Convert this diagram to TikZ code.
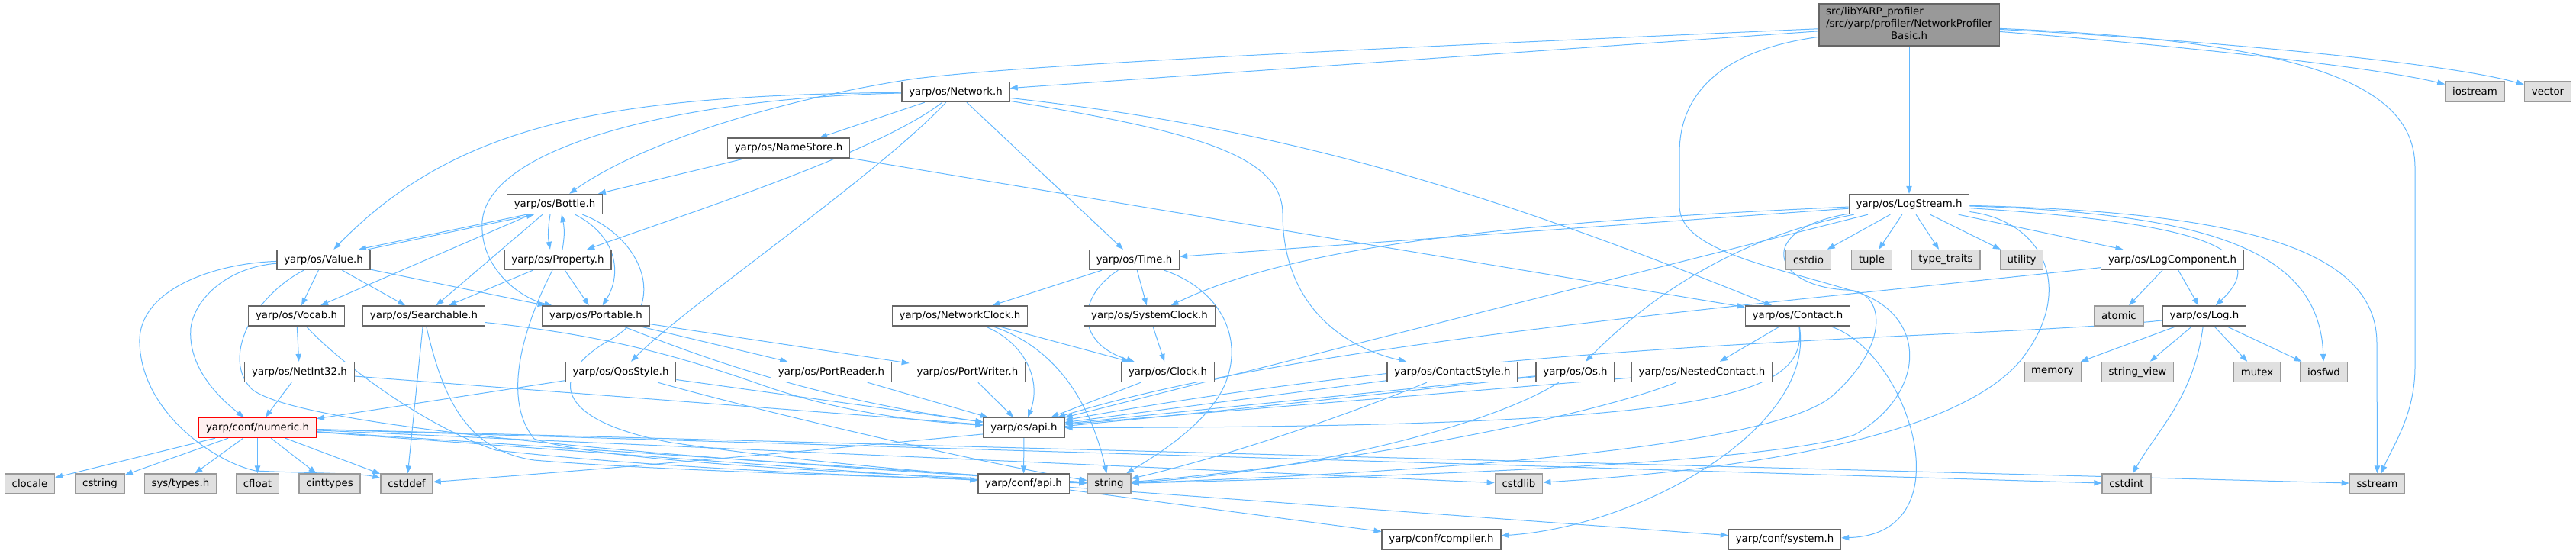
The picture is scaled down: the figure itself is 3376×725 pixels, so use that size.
\documentclass[tikz,border=0pt]{standalone}
\usepackage{fontspec}
\setmainfont{DejaVu Sans}
\usetikzlibrary{arrows.meta, calc, positioning, backgrounds}

\definecolor{edgeblue}{HTML}{63B8FF}
\definecolor{boxline}{HTML}{666666}
\definecolor{sysline}{HTML}{999999}
\definecolor{sysfill}{HTML}{E0E0E0}
\definecolor{mainfill}{HTML}{999999}
\definecolor{redline}{HTML}{FF0000}
\definecolor{redfill}{HTML}{FFF0F0}

\begin{document}
\begin{tikzpicture}[x=0.75pt, y=-0.75pt,
    hdr/.style={draw=boxline, fill=white, line width=1pt, rectangle, minimum height=19.5pt, inner xsep=7pt, inner ysep=0pt, font=\fontsize{10}{12}\selectfont},
    syshdr/.style={hdr, draw=sysline, fill=sysfill},
    dep/.style={draw=edgeblue, line width=0.75pt, -{Triangle[length=7.5pt,width=5.5pt]}}]
        \useasboundingbox (0,0) rectangle (3376,725);

        % Nodes
        \node (main) [hdr, fill=mainfill, minimum height=41.25pt] at (2502,32.5) {\begin{tabular}{@{}l@{}}src/libYARP\_profiler\\/src/yarp/profiler/NetworkProfiler\\\multicolumn{1}{@{}c@{}}{Basic.h}\end{tabular}};
        \node (iostream) [syshdr] at (3243.5,120) {iostream};
        \node (vector) [syshdr] at (3339,120) {vector};
        \node (network) [hdr] at (1252.5,120.5) {yarp/os/Network.h};
        \node (namestore) [hdr] at (1033.5,194) {yarp/os/NameStore.h};
        \node (bottle) [hdr] at (727,267.5) {yarp/os/Bottle.h};
        \node (logstream) [hdr] at (2502,267.5) {yarp/os/LogStream.h};
        \node (value) [hdr] at (424,340.5) {yarp/os/Value.h};
        \node (property) [hdr] at (731,340.5) {yarp/os/Property.h};
        \node (time) [hdr] at (1486.5,340.5) {yarp/os/Time.h};
        \node (cstdio) [syshdr] at (2370,340.5) {cstdio};
        \node (tuple) [syshdr] at (2453,340.5) {tuple};
        \node (typetraits) [syshdr] at (2550,340.5) {type\_traits};
        \node (utility) [syshdr] at (2649.5,340.5) {utility};
        \node (logcomp) [hdr] at (2847,340.5) {yarp/os/LogComponent.h};
        \node (vocab) [hdr] at (388.5,414) {yarp/os/Vocab.h};
        \node (searchable) [hdr] at (555.5,414) {yarp/os/Searchable.h};
        \node (portable) [hdr] at (781,414) {yarp/os/Portable.h};
        \node (netclock) [hdr] at (1258,414) {yarp/os/NetworkClock.h};
        \node (sysclock) [hdr] at (1506.5,414) {yarp/os/SystemClock.h};
        \node (contact) [hdr] at (2356,414) {yarp/os/Contact.h};
        \node (atomic) [syshdr] at (2777,414) {atomic};
        \node (log) [hdr] at (2889,414) {yarp/os/Log.h};
        \node (netint) [hdr] at (392.5,487.5) {yarp/os/NetInt32.h};
        \node (qosstyle) [hdr] at (813.5,487.5) {yarp/os/QosStyle.h};
        \node (portreader) [hdr] at (1089.5,487.5) {yarp/os/PortReader.h};
        \node (portwriter) [hdr] at (1268,487.5) {yarp/os/PortWriter.h};
        \node (clock) [hdr] at (1530.5,487.5) {yarp/os/Clock.h};
        \node (contactstyle) [hdr] at (1903.5,487.5) {yarp/os/ContactStyle.h};
        \node (os) [hdr] at (2064.5,487.5) {yarp/os/Os.h};
        \node (nestedcontact) [hdr] at (2230.5,487.5) {yarp/os/NestedContact.h};
        \node (memory) [syshdr] at (2690,487.5) {memory};
        \node (stringview) [syshdr] at (2801.5,487.5) {string\_view};
        \node (mutex) [syshdr] at (2958,487.5) {mutex};
        \node (iosfwd) [syshdr] at (3045.5,487.5) {iosfwd};
        \node (numeric) [hdr, draw=redline, fill=redfill] at (337.5,560.5) {yarp/conf/numeric.h};
        \node (osapi) [hdr] at (1342,560.5) {yarp/os/api.h};
        \node (clocale) [syshdr] at (39,634) {clocale};
        \node (cstring) [syshdr] at (131,634) {cstring};
        \node (systypes) [syshdr] at (236.5,634) {sys/types.h};
        \node (cfloat) [syshdr] at (337.5,634) {cfloat};
        \node (cinttypes) [syshdr] at (432,634) {cinttypes};
        \node (cstddef) [syshdr] at (533,634) {cstddef};
        \node (confapi) [hdr] at (1341.5,634) {yarp/conf/api.h};
        \node (string) [syshdr] at (1453.5,634) {string};
        \node (cstdlib) [syshdr] at (1990.5,634) {cstdlib};
        \node (cstdint) [syshdr] at (2787,634) {cstdint};
        \node (sstream) [syshdr] at (3115.5,634) {sstream};
        \node (compiler) [hdr] at (1889,707) {yarp/conf/compiler.h};
        \node (system) [hdr] at (2339,707) {yarp/conf/system.h};

        % Arrows
        \begin{scope}[on background layer]
        % from the profiler header
        \draw[dep] (main) -- (network);
        \draw[dep] (main) .. controls (1700,68) and (1350,85) .. (1200,103) .. controls (1050,125) and (850,180) .. (bottle);
        \draw[dep] (main) -- (logstream);
        \draw[dep] (main) .. controls (2800,55) and (3100,85) .. (iostream);
        \draw[dep] (main) .. controls (2850,50) and (3200,80) .. (vector);
        \draw[dep] (main) .. controls (3050,55) and (3165,120) .. (3165,220) -- (3165,480) .. controls (3165,545) and (3135,585) .. (sstream);
        \draw[dep] (main) .. controls (2260,65) and (2201,120) .. (2201,200) -- (2201,270) .. controls (2201,330) and (2330,350) .. (2440,385) .. controls (2530,420) and (2520,520) .. (2430,570) .. controls (2300,610) and (1800,625) .. (string);

        % Network.h
        \draw[dep] (network) -- (namestore);
        \draw[dep] (network) .. controls (800,125) and (600,160) .. (value);
        \draw[dep] (network) .. controls (900,128) and (640,190) .. (632,290) .. controls (628,350) and (680,390) .. (portable);
        \draw[dep] (network) .. controls (1150,200) and (900,280) .. (property);
        \draw[dep] (network) .. controls (1150,230) and (900,400) .. (qosstyle);
        \draw[dep] (network) -- (time);
        \draw[dep] (network) .. controls (1550,170) and (1681,200) .. (1681,280) .. controls (1681,400) and (1760,455) .. (contactstyle);
        \draw[dep] (network) .. controls (1650,165) and (1900,230) .. (contact);

        % NameStore.h
        \draw[dep] (namestore) -- (bottle);
        \draw[dep] (namestore) -- (contact);

        % Bottle.h
        \draw[dep] ($(bottle.south)+(-37,0)$) -- ($(value.north)+(46,0)$);
        \draw[dep] ($(value.north)+(58,0)$) -- ($(bottle.south)+(-27,0)$);
        \draw[dep] ($(bottle.south)+(-6,0)$) .. controls (718,300) and (718,310) .. ($(property.north)+(-10,0)$);
        \draw[dep] ($(property.north)+(6,0)$) .. controls (740,310) and (740,300) .. ($(bottle.south)+(9,0)$);
        \draw[dep] (bottle) -- (vocab);
        \draw[dep] (bottle) -- (searchable);
        \draw[dep] (bottle) .. controls (810,310) and (815,360) .. (portable);
        \draw[dep] (bottle) .. controls (840,310) and (880,400) .. (800,445) .. controls (720,490) and (720,550) .. (880,580) .. controls (1100,612) and (1300,625) .. (string);

        % Value.h
        \draw[dep] (value) -- (vocab);
        \draw[dep] (value) -- (searchable);
        \draw[dep] (value) -- (portable);
        \draw[dep] (value) .. controls (300,350) and (255,390) .. (250,430) .. controls (246,480) and (285,520) .. (numeric);
        \draw[dep] (value) .. controls (280,345) and (180,380) .. (183,450) .. controls (186,540) and (280,605) .. (335,617) .. controls (400,620) and (470,620) .. (cstddef);
        \draw[dep] (value) .. controls (330,390) and (290,470) .. (330,510) .. controls (380,550) and (700,590) .. (string);

        % Searchable.h, Property.h, Vocab.h, NetInt32.h
        \draw[dep] (searchable) -- (cstddef);
        \draw[dep] (searchable) .. controls (580,520) and (610,590) .. (700,603) .. controls (900,620) and (1300,628) .. (string);
        \draw[dep] (searchable) .. controls (800,440) and (900,470) .. (1000,505) .. controls (1100,540) and (1200,552) .. (osapi);
        \draw[dep] (property) -- (searchable);
        \draw[dep] (property) -- (portable);
        \draw[dep] (property) .. controls (690,420) and (655,520) .. (700,575) .. controls (800,610) and (1250,625) .. (string);
        \draw[dep] (vocab) -- (netint);
        \draw[dep] (vocab) .. controls (450,480) and (560,560) .. (650,590) .. controls (900,618) and (1250,628) .. (string);
        \draw[dep] (netint) -- (numeric);
        \draw[dep] (netint) -- (osapi);

        % QosStyle.h, Portable.h
        \draw[dep] (qosstyle) -- (numeric);
        \draw[dep] (qosstyle) -- (osapi);
        \draw[dep] (qosstyle) .. controls (1000,540) and (1300,610) .. (string);
        \draw[dep] (portable) -- (portreader);
        \draw[dep] (portable) -- (portwriter);
        \draw[dep] (portable) .. controls (900,460) and (1050,520) .. (osapi);
        \draw[dep] (portreader) -- (osapi);
        \draw[dep] (portwriter) -- (osapi);

        % numeric.h
        \draw[dep] (numeric) -- (clocale);
        \draw[dep] (numeric) -- (cstring);
        \draw[dep] (numeric) -- (systypes);
        \draw[dep] (numeric) -- (cfloat);
        \draw[dep] (numeric) -- (cinttypes);
        \draw[dep] (numeric) -- (cstddef);
        \draw[dep] (numeric) -- (confapi);
        \draw[dep] (numeric) -- (string);
        \draw[dep] (numeric) -- (cstdlib);
        \draw[dep] (numeric) -- (cstdint);
        \draw[dep] (numeric) -- (sstream);

        % api headers
        \draw[dep] (osapi) -- (confapi);
        \draw[dep] (confapi) -- (compiler);
        \draw[dep] (confapi) -- (system);

        % Time.h and clocks
        \draw[dep] (time) -- (netclock);
        \draw[dep] (time) -- (sysclock);
        \draw[dep] (time) .. controls (1410,390) and (1410,450) .. (clock);
        \draw[dep] (time) .. controls (1600,380) and (1625,440) .. (1610,490) .. controls (1595,550) and (1510,600) .. (string);
        \draw[dep] (netclock) -- (clock);
        \draw[dep] (netclock) .. controls (1345,450) and (1365,500) .. (osapi);
        \draw[dep] (netclock) .. controls (1370,450) and (1425,510) .. (string);
        \draw[dep] (sysclock) -- (clock);
        \draw[dep] (clock) -- (osapi);

        % ContactStyle.h, Os.h, NestedContact.h, Contact.h
        \draw[dep] (contactstyle) -- (osapi);
        \draw[dep] (contactstyle) .. controls (1750,550) and (1600,600) .. (string);
        \draw[dep] (os) -- (osapi);
        \draw[dep] (os) .. controls (1950,560) and (1700,620) .. (string);
        \draw[dep] (os) .. controls (1700,530) and (1000,600) .. (cstddef);
        \draw[dep] (nestedcontact) -- (osapi);
        \draw[dep] (nestedcontact) .. controls (2100,540) and (1800,605) .. (string);
        \draw[dep] (contact) -- (nestedcontact);
        \draw[dep] (contact) .. controls (2370,520) and (2250,560) .. (osapi);
        \draw[dep] (contact) .. controls (2380,560) and (2150,690) .. (compiler);
        \draw[dep] (contact) .. controls (2500,460) and (2580,700) .. (system);

        % LogStream.h
        \draw[dep] (logstream) -- (time);
        \draw[dep] (logstream) .. controls (2000,290) and (1700,320) .. (sysclock);
        \draw[dep] (logstream) -- (osapi);
        \draw[dep] (logstream) .. controls (2330,300) and (2200,350) .. (os);
        \draw[dep] (logstream) -- (cstdio);
        \draw[dep] (logstream) -- (tuple);
        \draw[dep] (logstream) -- (typetraits);
        \draw[dep] (logstream) -- (utility);
        \draw[dep] (logstream) -- (logcomp);
        \draw[dep] (logstream) .. controls (2850,290) and (2990,320) .. (log);
        \draw[dep] (logstream) .. controls (2900,280) and (3040,330) .. (iosfwd);
        \draw[dep] (logstream) .. controls (2950,278) and (3115,330) .. (3115,450) -- (sstream);
        \draw[dep] (logstream) .. controls (2680,290) and (2720,380) .. (2650,470) .. controls (2570,570) and (2300,615) .. (cstdlib);
        \draw[dep] (logstream) .. controls (2300,300) and (2320,375) .. (2420,380) .. controls (2470,380) and (2480,450) .. (2400,520) .. controls (2300,600) and (1700,625) .. (string);

        % LogComponent.h, Log.h
        \draw[dep] (logcomp) -- (atomic);
        \draw[dep] (logcomp) -- (log);
        \draw[dep] (logcomp) .. controls (2300,400) and (1700,450) .. (osapi);
        \draw[dep] (log) -- (memory);
        \draw[dep] (log) -- (stringview);
        \draw[dep] (log) -- (mutex);
        \draw[dep] (log) -- (iosfwd);
        \draw[dep] (log) .. controls (2875,520) and (2830,560) .. (cstdint);
        \draw[dep] (log) .. controls (2600,445) and (2000,440) .. (osapi);
        \end{scope}
    \end{tikzpicture}
\end{document}
